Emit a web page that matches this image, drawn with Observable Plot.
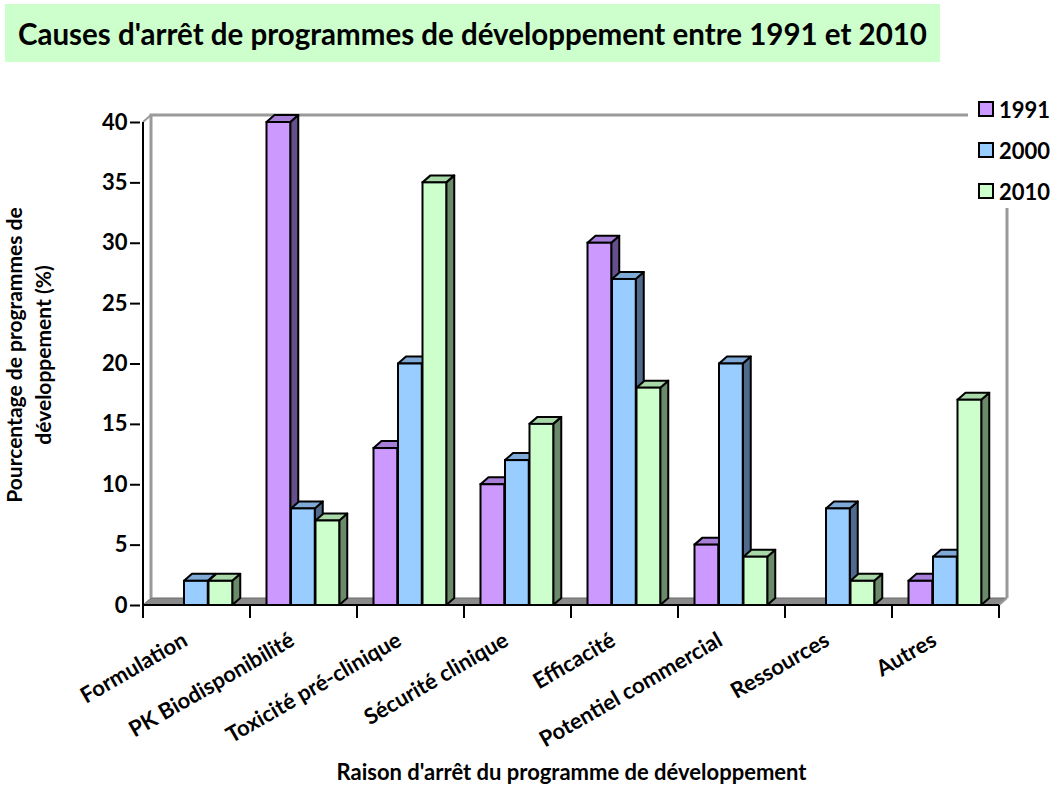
<!DOCTYPE html>
<html>
<head>
<meta charset="utf-8">
<script src="https://cdn.jsdelivr.net/npm/d3@7"></script>
<script src="https://cdn.jsdelivr.net/npm/@observablehq/plot@0.6"></script>
<style>
  body { margin: 0; background: #fff; font-family: Lato, sans-serif; }
  #wrap { position: relative; width: 1056px; height: 794px; overflow: hidden; background: #fff; }
  #title { position: absolute; left: 5px; top: 4px; width: 935px; height: 58px; background: #ccffcc;
           font: bold 29.5px Lato, sans-serif; color: #000; display: flex; align-items: center; padding-left: 13px;
           box-sizing: border-box; z-index: 2; white-space: nowrap; }
  #chart { position: absolute; left: 0; top: 0; z-index: 1; }
  #legend { position: absolute; left: 968px; top: 92px; width: 88px; height: 116px; background: #fff; z-index: 3; }
  .li { position: absolute; left: 10px; height: 26px; display: flex; align-items: center; font: bold 22px Lato, sans-serif; }
  .sw { width: 12px; height: 12px; border: 2px solid #000; margin-right: 5px; }
</style>
</head>
<body>
<div id="wrap">
  <div id="title"></div>
  <div id="chart"></div>
  <div id="legend"></div>
</div>
<script>
// ---- data ----
const title = "Causes d'arrêt de programmes de développement entre 1991 et 2010";
const categories = ["Formulation", "PK Biodisponibilité", "Toxicité pré-clinique", "Sécurité clinique",
  "Efficacité", "Potentiel commercial", "Ressources", "Autres"];
const years = ["1991", "2000", "2010"];
const v1991 = [0, 40, 13, 10, 30, 5, 0, 2];
const v2000 = [2, 8, 20, 12, 27, 20, 8, 4];
const v2010 = [2, 7, 35, 15, 18, 4, 2, 17];
const yTicks = [0, 5, 10, 15, 20, 25, 30, 35, 40];
const yLabel = "Pourcentage de programmes de\ndéveloppement (%)";
const xLabel = "Raison d'arrêt du programme de développement";

// ---- styles ----
const frontColors = ["#cc99ff", "#99ccff", "#ccffcc"];
const topColors = ["#a87fd8", "#7faad8", "#a8d8a8"];
const sideColors = ["#66508c", "#4f6a8c", "#6a8a6a"];
const series = [v1991, v2000, v2010];
const DX = 8, DY = -7;
const W = 1056, H = 794;
const mL = 140, mR = 54, mT = 122, mB = 189;
const bandW = (W - mL - mR) / categories.length;
const barOff = 16.5, barW = 24.5;
const insetL = j => barOff + barW * j;
const insetR = j => bandW - barOff - barW * (j + 1);

const data = categories.flatMap((c, i) => years.map((yr, j) => ({category: c, year: yr, value: series[j][i], j})));

document.getElementById("title").textContent = title;

function bw(x, dim) {
  return x.bandwidth ? x.bandwidth() : (dim.width - dim.marginLeft - dim.marginRight) / categories.length;
}

// walls, floor
function wallsMark(index, scales, values, dim) {
  const x = scales.x, y = scales.y, b = bw(x, dim);
  const xL = x(categories[0]), xR = x(categories[categories.length - 1]) + b;
  const y0 = y(0), yT = y(40);
  const g = d3.create("svg:g");
  g.append("path").attr("d", `M${xL},${y0}L${xR},${y0}L${xR + DX},${y0 + DY}L${xL + DX},${y0 + DY}Z`)
    .attr("fill", "#8a8a8a").attr("stroke", "#6a6a6a").attr("stroke-width", 1);
  g.append("path").attr("d", `M${xL + DX},${y0 + DY}V${yT + DY}H${xR + DX}V${y0 + DY}`)
    .attr("fill", "none").attr("stroke", "#9a9a9a").attr("stroke-width", 3);
  g.append("path").attr("d", `M${xL},${yT}L${xL + DX},${yT + DY}M${xR},${y0}L${xR + DX},${y0 + DY}`)
    .attr("fill", "none").attr("stroke", "#9a9a9a").attr("stroke-width", 2);
  return g.node();
}

// tops and sides of bars
function depthMark(index, scales, values, dim) {
  const x = scales.x, y = scales.y, b = bw(x, dim);
  const g = d3.create("svg:g").attr("stroke", "#000").attr("stroke-width", 2).attr("stroke-linejoin", "round");
  categories.forEach((c, i) => {
    series.forEach((vals, j) => {
      const v = vals[i];
      if (!(v > 0)) return;
      const x0 = x(c) + insetL(j), x1 = x(c) + b - insetR(j);
      const yv = y(v), y0 = y(0);
      g.append("path").attr("fill", sideColors[j])
        .attr("d", `M${x1},${yv}L${x1 + DX},${yv + DY}L${x1 + DX},${y0 + DY}L${x1},${y0}Z`);
      g.append("path").attr("fill", topColors[j])
        .attr("d", `M${x0},${yv}L${x1},${yv}L${x1 + DX},${yv + DY}L${x0 + DX},${yv + DY}Z`);
    });
  });
  return g.node();
}

// axis lines and x ticks
function axesMark(index, scales, values, dim) {
  const x = scales.x, y = scales.y, b = bw(x, dim);
  const y0 = y(0), yT = y(40);
  const xs = categories.map(c => x(c)).concat([x(categories[categories.length - 1]) + b]);
  const g = d3.create("svg:g").attr("stroke", "#000").attr("stroke-width", 2).attr("fill", "none");
  g.append("path").attr("d", `M${xs[0]},${yT}V${y0}H${xs[xs.length - 1]}`);
  g.append("path").attr("d", xs.map(v => `M${v},${y0}V${y0 + 13}`).join(""));
  return g.node();
}

const chart = Plot.plot({
  width: W, height: H,
  marginLeft: mL, marginRight: mR, marginTop: mT, marginBottom: mB,
  style: {background: "transparent", fontFamily: "Lato, sans-serif", overflow: "visible", color: "#000"},
  x: {domain: categories, padding: 0, axis: null},
  y: {domain: [0, 40], axis: null},
  marks: [
    wallsMark,
    depthMark,
    ...years.map((yr, j) => Plot.barY(data.filter(d => d.year === yr && d.value > 0), {
      x: "category", y: "value", fill: frontColors[j], stroke: "#000", strokeWidth: 2,
      insetLeft: insetL(j), insetRight: insetR(j)
    })),
    axesMark,
    Plot.axisY({ticks: yTicks, tickSize: 10, tickPadding: 3, tickFormat: d => String(d), fontSize: 22, fontWeight: "bold",
      stroke: "#000", strokeWidth: 2, label: null}),
    Plot.text(categories, {x: d => d, frameAnchor: "bottom", dx: -8, dy: 39, rotate: -30, textAnchor: "end",
      fontSize: 22, fontWeight: "bold", fill: "#000"}),
    Plot.text([xLabel], {frameAnchor: "bottom", dy: 174, fontSize: 22, fontWeight: "bold", fill: "#000"}),
    Plot.text([yLabel], {frameAnchor: "left", dx: -113, dy: -9, rotate: -90, textAnchor: "middle", lineHeight: 1.38,
      fontSize: 21, fontWeight: "bold", fill: "#000"})
  ]
});
document.getElementById("chart").appendChild(chart);

// legend
const legend = document.getElementById("legend");
years.forEach((yr, j) => {
  const item = document.createElement("div");
  item.className = "li";
  item.style.top = (4 + j * 41) + "px";
  const sw = document.createElement("div");
  sw.className = "sw";
  sw.style.background = frontColors[j];
  const t = document.createElement("span");
  t.textContent = yr;
  item.appendChild(sw);
  item.appendChild(t);
  legend.appendChild(item);
});
</script>
</body>
</html>
